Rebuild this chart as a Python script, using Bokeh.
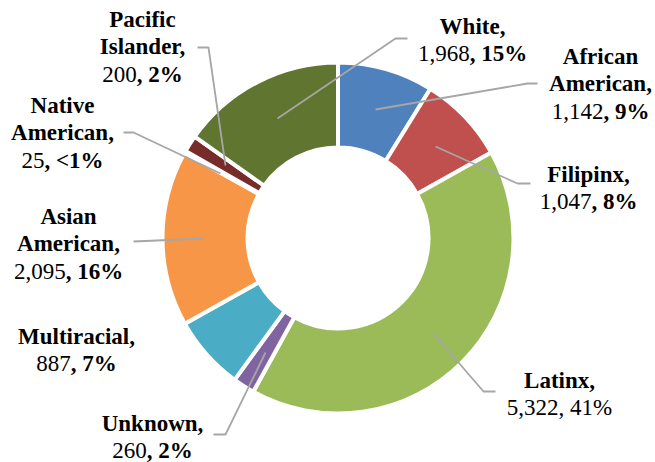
import math
from bokeh.plotting import figure
from bokeh.models import Range1d, ColumnDataSource
from bokeh.core.properties import value
from bokeh.embed import file_html
from bokeh.resources import INLINE

# ---- data (clockwise from 12 o'clock) ----
categories = ["African American", "Filipinx", "Latinx", "Unknown", "Multiracial",
              "Asian American", "Native American", "Pacific Islander", "White"]
counts = [1142, 1047, 5322, 260, 887, 2095, 25, 200, 1968]
pct_labels = ["9%", "8%", "41%", "2%", "7%", "16%", "<1%", "2%", "15%"]
colors = ["#4F81BD", "#C0504D", "#9BBB59", "#8064A2", "#4BACC6",
          "#F79646", "#2C4D75", "#772C2A", "#5F7530"]

# ---- layout ----
W, H = 655, 462
CX, CY = 337.5, 237.5      # image-pixel coordinates of donut centre
R_OUT, R_IN = 175.5, 90.5
FS = 23
LH = 27.5
TEXT_DY = 7.5              # renderer draws text this much below the requested baseline
FONT = "Liberation Serif"

def Y(img_y):
    return H - img_y

# label anchors: centre x, baseline of first line (image coordinates)
label_pos = {
    "African American": (600, 63),
    "Filipinx": (588, 181),
    "Latinx": (559, 387),
    "Unknown": (152, 430),
    "Multiracial": (76, 343),
    "Asian American": (68, 223),
    "Native American": (62, 112),
    "Pacific Islander": (142, 26),
    "White": (472, 33),
}
bold_pct = {c: (c != "Latinx") for c in categories}

leaders = {
    "White": [(407, 38), (395, 38), (277, 118)],
    "African American": [(537, 83), (527, 83), (375, 109)],
    "Filipinx": [(530, 183), (517, 183), (435, 146)],
    "Latinx": [(495, 391), (483, 391), (433, 333)],
    "Unknown": [(213, 434), (225, 434), (265, 352)],
    "Asian American": [(133, 241), (203, 238)],
    "Native American": [(123, 132), (133, 132), (220, 173)],
    "Pacific Islander": [(197, 47), (208, 47), (225, 165)],
}

# Times/Liberation Serif advance widths (em) for the characters used in numbers
REG_W = {",": 0.25, " ": 0.25, "%": 0.833, "<": 0.564}
BOLD_W = {",": 0.25, " ": 0.25, "%": 1.0, "<": 0.57}

def text_w(s, bold):
    tbl = BOLD_W if bold else REG_W
    return sum(tbl.get(ch, 0.5) for ch in s) * FS

p = figure(width=W, height=H, output_backend="svg", toolbar_location=None,
           x_range=Range1d(0, W), y_range=Range1d(0, H),
           x_axis_type=None, y_axis_type=None, min_border=0,
           outline_line_color=None, background_fill_color="white")
p.grid.visible = False

total = sum(counts)
starts, ends = [], []
acc = 0
for c in counts:
    starts.append(math.pi / 2 - 2 * math.pi * acc / total)
    acc += c
    ends.append(math.pi / 2 - 2 * math.pi * acc / total)

src = ColumnDataSource(dict(x=[CX] * len(counts), y=[Y(CY)] * len(counts),
                            start=starts, end=ends, color=colors))
p.annular_wedge(x="x", y="y", inner_radius=R_IN, outer_radius=R_OUT,
                start_angle="start", end_angle="end", direction="clock",
                fill_color="color", line_color="white", line_width=4, source=src)

# leader lines
xs, ys = [], []
for name, pts in leaders.items():
    xs.append([pt[0] for pt in pts])
    ys.append([Y(pt[1]) for pt in pts])
p.multi_line(xs=xs, ys=ys, line_color="#A6A6A6", line_width=1.8)

# labels
bx, by, bt = [], [], []          # bold centred lines
lx, ly, lt = [], [], []          # regular left-aligned parts
kx, ky, kt = [], [], []          # bold left-aligned parts
for name, cnt, pct in zip(categories, counts, pct_labels):
    cx, b0 = label_pos[name]
    b0 = b0 - TEXT_DY
    words = name.split(" ")
    for i, wd in enumerate(words):
        txt = wd + ("," if i == len(words) - 1 else "")
        bx.append(cx); by.append(Y(b0 + i * LH)); bt.append(txt)
    yb = Y(b0 + len(words) * LH)
    reg = f"{cnt:,}"
    tail = ", " + pct
    if bold_pct[name]:
        wr, wt = text_w(reg, False), text_w(tail, True)
        x0 = cx - (wr + wt) / 2
        lx.append(x0); ly.append(yb); lt.append(reg)
        kx.append(x0 + wr); ky.append(yb); kt.append(tail)
    else:
        full = reg + tail
        wr = text_w(full, False)
        lx.append(cx - wr / 2); ly.append(yb); lt.append(full)

common = dict(text_font=value(FONT), text_font_size=f"{FS}px", text_color="black",
              text_baseline="alphabetic")
p.text(x=bx, y=by, text=bt, text_align="center", text_font_style="bold", **common)
p.text(x=lx, y=ly, text=lt, text_align="left", text_font_style="normal", **common)
p.text(x=kx, y=ky, text=kt, text_align="left", text_font_style="bold", **common)

open("out.html", "w").write(file_html(p, INLINE))
